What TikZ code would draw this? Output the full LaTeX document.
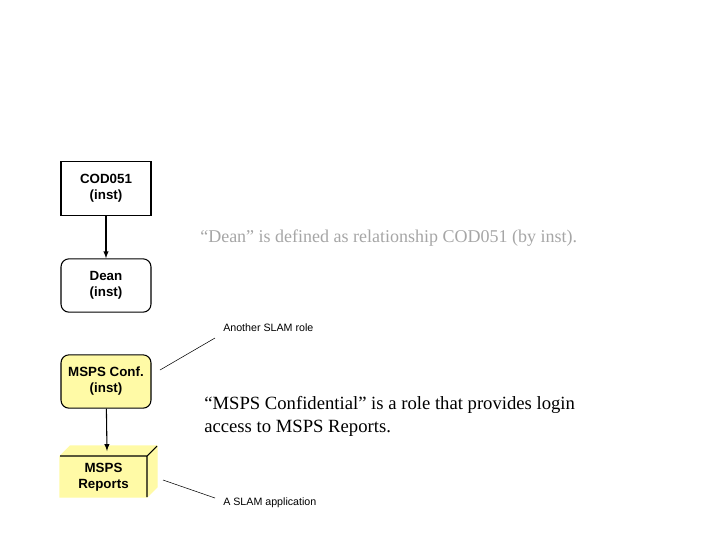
\documentclass[tikz,border=0pt]{standalone}
\usepackage{fontspec}
\setmainfont{Liberation Serif}
\setsansfont{Liberation Sans}
\begin{document}
\begin{tikzpicture}[x=0.75pt,y=-0.75pt,
  box/.style={draw,thick,minimum width=67.5pt,minimum height=40pt,font=\sffamily\bfseries\fontsize{10}{12}\selectfont,align=center,inner sep=0pt},
  small/.style={font=\sffamily\fontsize{8}{10}\selectfont,anchor=west,inner sep=0pt},
  arr/.style={thick,-latex}]
\useasboundingbox (0,0) rectangle (720,540);
\node[box] (cod) at (106,188.5) {COD051\\(inst)};
\node[box,rounded corners=6pt] (dean) at (106,285.5) {Dean\\(inst)};
\node[box,rounded corners=6pt,fill=yellow!35] (conf) at (106,381.5) {MSPS Conf.\\(inst)};
\fill[yellow!35,draw,thick] (60,456) -- (70,446) -- (157,446) -- (157,487) -- (147,497) -- (60,497) -- cycle;
\draw[thick] (60,456) -- (147,456) -- (157,446) (147,456) -- (147,497);
\node[font=\sffamily\bfseries\fontsize{10}{12}\selectfont,align=center] (rep) at (103.5,477) {MSPS\\Reports};
\coordinate (reptop) at (107,451);
\draw[arr] (cod) -- (dean);
\draw[arr] (conf) -- (reptop);
\node[small] (role) at (223,328) {Another SLAM role};
\node[small] (app) at (223,503) {A SLAM application};
\coordinate (c1) at (160,370); \coordinate (c2) at (215,338);
\coordinate (c3) at (163,480); \coordinate (c4) at (215,498);
\draw (c1) -- (c2); \draw (c3) -- (c4);
\node[anchor=west,inner sep=0pt,text=gray!70,font=\fontsize{13.5}{16}\selectfont] (dtext) at (200,238) {“Dean” is defined as relationship COD051 (by inst).};
\node[anchor=north west,inner sep=0pt,align=left,font=\fontsize{14}{17}\selectfont] (mtext) at (204,396) {“MSPS Confidential” is a role that provides login\\access to MSPS Reports.};
\end{tikzpicture}
\end{document}
